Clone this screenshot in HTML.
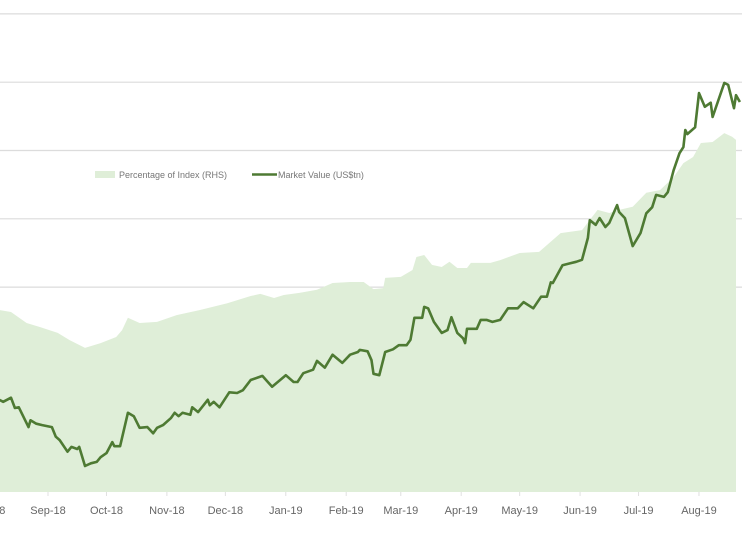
<!DOCTYPE html>
<html><head><meta charset="utf-8"><style>
html,body{margin:0;padding:0;background:#fff;}
svg{display:block;font-family:"Liberation Sans",sans-serif;}
</style></head><body>
<svg id="chart" width="750" height="536" viewBox="0 0 750 536" xmlns="http://www.w3.org/2000/svg">
<g id="grid"></g>
<g id="area"></g>
<g id="line"></g>
<g id="xaxis"></g>
<g>
  <rect x="95" y="171" width="20" height="7" fill="#dfeed8"/>
  <text x="119" y="178" font-size="9" fill="#777">Percentage of Index (RHS)</text>
  <line x1="252" y1="174.5" x2="277" y2="174.5" stroke="#4e7a33" stroke-width="2.5"/>
  <text x="278" y="178" font-size="9" fill="#777">Market Value (US$tn)</text>
</g>
</svg>
<script>
// days since 2018-09-01
const lineDays=[-25,-23,-19,-17,-15,-10,-9,-6,-3,2,4,6,10,12,15,16,19,22,25,27,30,33,34,37,41,44,47,51,54,56,59,63,65,67,69,73,74,77,82,83,85,88,93,97,100,104,110,115,122,126,128,131,136,138,142,146,151,155,159,160,164,166,167,170,173,177,180,184,186,188,192,193,195,198,202,205,207,210,213,214,215,220,222,225,228,232,236,241,244,249,253,256,258,259,264,268,271,274,277,278,281,283,286,288,292,293,296,300,304,307,310,312,316,318,321,324,326,327,328,332,334,337,340,341,347,349,352,353,355];
const marketValue=[1.35,1.32,1.38,1.23,1.24,0.95,1.05,1.00,0.98,0.95,0.81,0.76,0.59,0.66,0.63,0.66,0.38,0.42,0.44,0.51,0.57,0.73,0.67,0.67,1.16,1.11,0.94,0.95,0.86,0.94,0.98,1.08,1.16,1.11,1.16,1.13,1.24,1.17,1.35,1.27,1.32,1.24,1.46,1.45,1.49,1.64,1.70,1.54,1.71,1.61,1.61,1.74,1.79,1.92,1.82,2.01,1.89,2.01,2.05,2.08,2.06,1.93,1.73,1.71,2.05,2.09,2.15,2.15,2.23,2.55,2.55,2.71,2.69,2.49,2.33,2.37,2.56,2.33,2.25,2.18,2.39,2.39,2.52,2.52,2.49,2.52,2.69,2.69,2.78,2.69,2.86,2.86,3.07,3.06,3.32,3.35,3.37,3.40,3.72,3.98,3.91,4.01,3.88,3.94,4.20,4.10,4.01,3.60,3.79,4.08,4.17,4.35,4.32,4.39,4.71,4.96,5.05,5.30,5.24,5.34,5.84,5.64,5.70,5.49,5.99,5.96,5.62,5.81,5.71];
const areaDays=[-25,-19,-11,-4,5,11,19,27,35,38,41,47,56,66,78,92,104,109,116,121,129,138,146,155,162,167,172,173,181,187,189,193,197,202,206,210,215,217,227,232,242,252,263,274,282,288,293,300,307,314,321,326,331,335,341,347,351,353];
const pctOfIndex=[5.33,5.27,4.95,4.83,4.66,4.45,4.22,4.36,4.54,4.74,5.10,4.95,4.98,5.18,5.33,5.53,5.74,5.80,5.68,5.77,5.83,5.92,6.12,6.15,6.15,5.94,5.97,6.27,6.30,6.50,6.88,6.94,6.65,6.59,6.74,6.56,6.56,6.71,6.71,6.79,7.00,7.03,7.58,7.67,8.26,8.17,8.26,8.35,8.76,8.84,9.22,9.63,9.81,10.22,10.25,10.51,10.40,10.31];
const gridValues=[3,4,5,6,7];
const monthLabels=["Aug-18","Sep-18","Oct-18","Nov-18","Dec-18","Jan-19","Feb-19","Mar-19","Apr-19","May-19","Jun-19","Jul-19","Aug-19"];
const monthDays=[-31,0,30,61,91,122,153,181,212,242,273,303,334];

const NS="http://www.w3.org/2000/svg";
const X=d=>48+d*1.949;
const Y=v=>492-v*68.3;
const YR=p=>492-p*34.15;
function mk(t,a,p){const e=document.createElementNS(NS,t);for(const k in a)e.setAttribute(k,a[k]);p.appendChild(e);return e;}

const grid=document.getElementById('grid');
gridValues.forEach(v=>{
  const l=mk('line',{x1:0,x2:742,y1:Y(v),y2:Y(v),stroke:'#dcdcdc','stroke-width':1.2},grid);
  
  
});

const area=document.getElementById('area');
let d='M'+X(areaDays[0])+','+492;
areaDays.forEach((dd,i)=>{d+=' L'+X(dd).toFixed(1)+','+YR(pctOfIndex[i]).toFixed(1);});
d+=' L'+X(areaDays[areaDays.length-1]).toFixed(1)+',492 Z';
const ap=mk('path',{d:d,fill:'#dfeed8'},area);



const line=document.getElementById('line');
const pts=lineDays.map((dd,i)=>X(dd).toFixed(1)+','+Y(marketValue[i]).toFixed(1)).join(' ');
const lp=mk('polyline',{points:pts,fill:'none',stroke:'#4e7a33','stroke-width':2.6,'stroke-linejoin':'round'},line);



const xa=document.getElementById('xaxis');
monthDays.forEach((dd,i)=>{
  const x=X(dd);
  const tk=mk('line',{x1:x,x2:x,y1:492,y2:496,stroke:'#e0e0e0','stroke-width':1},xa);
  
  
  const t=mk('text',{x:x,y:514,'text-anchor':'middle','font-size':11,fill:'#666'},xa);
  t.textContent=monthLabels[i];
  
  
});
</script>
</body></html>
